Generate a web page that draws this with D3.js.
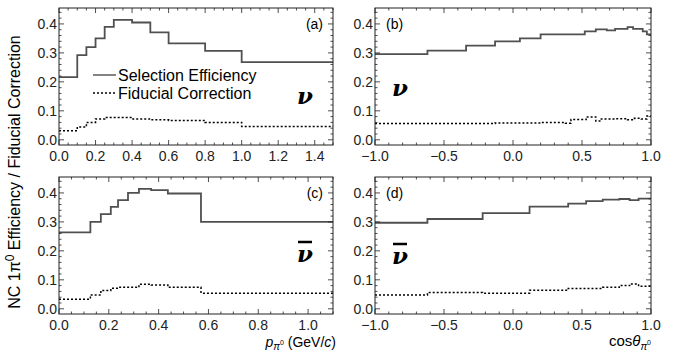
<!DOCTYPE html>
<html>
<head>
<meta charset="utf-8">
<script src="https://cdn.jsdelivr.net/npm/d3@7"></script>
<style>
  body { margin: 0; background: #fff; }
  svg { font-family: "Liberation Sans", Arial, sans-serif; }
</style>
</head>
<body>
<svg width="676" height="354"></svg>
<script>
// bin edges and values
const pEdgesNu = [0, 0.1, 0.15, 0.2, 0.25, 0.3, 0.4, 0.5, 0.6, 0.8, 1.0, 1.5];
const pEffNu = [0.216, 0.292, 0.32, 0.35, 0.39, 0.414, 0.405, 0.371, 0.333, 0.307, 0.268];
const pFidNu = [0.031, 0.044, 0.06, 0.072, 0.077, 0.077, 0.072, 0.069, 0.067, 0.06, 0.046];

const cEffEdgesNu = [-1, -0.62, -0.34, -0.13, 0.05, 0.2, 0.52, 0.6, 0.68, 0.74, 0.83, 0.87, 0.94, 0.97, 1.0];
const cEffNu = [0.296, 0.308, 0.325, 0.34, 0.35, 0.364, 0.374, 0.381, 0.378, 0.383, 0.389, 0.383, 0.374, 0.364];
const cFidEdgesNu = [-1, -0.62, -0.13, 0.2, 0.38, 0.42, 0.53, 0.6, 0.64, 0.74, 0.83, 0.88, 0.93, 0.97, 1];
const cFidNu = [0.056, 0.056, 0.058, 0.06, 0.057, 0.07, 0.079, 0.065, 0.072, 0.073, 0.069, 0.074, 0.072, 0.082];

const pEdgesNubar = [0, 0.126, 0.168, 0.208, 0.237, 0.277, 0.321, 0.37, 0.437, 0.57, 1.1];
const pEffNubar = [0.264, 0.3, 0.327, 0.352, 0.375, 0.4, 0.414, 0.41, 0.398, 0.3];
const pFidNubar = [0.033, 0.048, 0.063, 0.071, 0.074, 0.074, 0.085, 0.082, 0.074, 0.054];

const cEdgesNubar = [-1, -0.62, -0.22, 0.12, 0.4, 0.53, 0.65, 0.77, 0.845, 0.91, 1];
const cEffNubar = [0.297, 0.31, 0.33, 0.353, 0.363, 0.372, 0.377, 0.379, 0.375, 0.38];
const cFidNubar = [0.048, 0.056, 0.054, 0.064, 0.07, 0.07, 0.074, 0.08, 0.086, 0.078];

const yTicks = [0.0, 0.1, 0.2, 0.3, 0.4];

const svg = d3.select('svg');

const panels = [
  {x0: 59, x1: 333, y0: 8, y1: 145, dom: [0, 1.5], major: d3.range(0, 1.51, 0.2), minor: d3.range(0, 1.51, 0.05),
   eff: [pEdgesNu, pEffNu], fid: [pEdgesNu, pFidNu], tag: '(a)', tagX: 323, tagAnchor: 'end', bar: false, nuX: 305, nuY: 104},
  {x0: 375, x1: 651, y0: 8, y1: 145, dom: [-1, 1], major: d3.range(-1, 1.01, 0.5), minor: d3.range(-1, 1.01, 0.1),
   eff: [cEffEdgesNu, cEffNu], fid: [cFidEdgesNu, cFidNu], tag: '(b)', tagX: 386, tagAnchor: 'start', bar: false, nuX: 400, nuY: 96},
  {x0: 59, x1: 333, y0: 177, y1: 314, dom: [0, 1.1], major: d3.range(0, 1.11, 0.2), minor: d3.range(0, 1.11, 0.05),
   eff: [pEdgesNubar, pEffNubar], fid: [pEdgesNubar, pFidNubar], tag: '(c)', tagX: 323, tagAnchor: 'end', bar: true, nuX: 305, nuY: 262},
  {x0: 375, x1: 651, y0: 177, y1: 314, dom: [-1, 1], major: d3.range(-1, 1.01, 0.5), minor: d3.range(-1, 1.01, 0.1),
   eff: [cEdgesNubar, cEffNubar], fid: [cEdgesNubar, cFidNubar], tag: '(d)', tagX: 386, tagAnchor: 'start', bar: true, nuX: 400, nuY: 264}
];

function stepPoints(edges, vals) {
  const pts = [];
  vals.forEach((v, i) => { pts.push([edges[i], v]); pts.push([edges[i + 1], v]); });
  return pts;
}

panels.forEach(p => {
  const x = d3.scaleLinear().domain(p.dom).range([p.x0, p.x1]);
  const y = d3.scaleLinear().domain([-0.018, 0.455]).range([p.y1, p.y0]);
  const g = svg.append('g');

  const line = d3.line().x(d => x(d[0])).y(d => y(d[1]));

  g.append('path').datum(stepPoints(p.fid[0], p.fid[1]))
    .attr('d', line).attr('fill', 'none').attr('stroke', '#000')
    .attr('stroke-width', 1.5).attr('stroke-dasharray', '2,2');
  g.append('path').datum(stepPoints(p.eff[0], p.eff[1]))
    .attr('d', line).attr('fill', 'none').attr('stroke', '#505050')
    .attr('stroke-width', 1.8);

  // frame
  g.append('rect').attr('x', p.x0).attr('y', p.y0)
    .attr('width', p.x1 - p.x0).attr('height', p.y1 - p.y0)
    .attr('fill', 'none').attr('stroke', '#222').attr('stroke-width', 1);

  // ticks inward on all sides
  const tk = g.append('g').attr('stroke', '#222').attr('stroke-width', 0.8);
  const isMajor = (v, arr) => arr.some(m => Math.abs(m - v) < 1e-6);
  p.minor.forEach(v => {
    const len = isMajor(v, p.major) ? 5 : 2.5;
    tk.append('line').attr('x1', x(v)).attr('x2', x(v)).attr('y1', p.y1).attr('y2', p.y1 - len);
    tk.append('line').attr('x1', x(v)).attr('x2', x(v)).attr('y1', p.y0).attr('y2', p.y0 + len);
  });
  d3.range(0, 0.451, 0.02).forEach(v => {
    const len = isMajor(v, yTicks) ? 5 : 2.5;
    tk.append('line').attr('y1', y(v)).attr('y2', y(v)).attr('x1', p.x0).attr('x2', p.x0 + len);
    tk.append('line').attr('y1', y(v)).attr('y2', y(v)).attr('x1', p.x1).attr('x2', p.x1 - len);
  });

  // tick labels
  g.selectAll('.xl').data(p.major).enter().append('text')
    .attr('x', d => x(d)).attr('y', p.y1 + 15.5)
    .attr('text-anchor', 'middle').attr('font-size', 14).attr('fill', '#222')
    .text(d => d3.format('.1f')(d).replace('-', '\u2212'));
  g.selectAll('.yl').data(yTicks).enter().append('text')
    .attr('x', p.x0 - 2).attr('y', d => y(d) + 5)
    .attr('text-anchor', 'end').attr('font-size', 14).attr('fill', '#222')
    .text(d => d3.format('.1f')(d));

  g.append('text').attr('x', p.tagX).attr('y', p.y0 + 21)
    .attr('text-anchor', p.tagAnchor).attr('font-size', 14).text(p.tag);

  g.append('text').attr('x', p.nuX).attr('y', p.nuY)
    .attr('text-anchor', 'middle').attr('font-family', '"DejaVu Serif", "Liberation Serif", serif')
    .attr('font-style', 'italic').attr('font-weight', 'bold').attr('font-size', 23).text('\u03bd');
  if (p.bar) {
    g.append('line').attr('x1', p.nuX - 7).attr('x2', p.nuX + 7)
      .attr('y1', p.nuY - 20).attr('y2', p.nuY - 20)
      .attr('stroke', '#000').attr('stroke-width', 2.5);
  }
});

// legend in panel (a)
const leg = svg.append('g').attr('font-size', 16);
leg.append('line').attr('x1', 93).attr('x2', 116).attr('y1', 75).attr('y2', 75)
  .attr('stroke', '#505050').attr('stroke-width', 1.4);
leg.append('text').attr('x', 118).attr('y', 81).text('Selection Efficiency');
leg.append('line').attr('x1', 93).attr('x2', 116).attr('y1', 93).attr('y2', 93)
  .attr('stroke', '#000').attr('stroke-width', 1.4).attr('stroke-dasharray', '2,2');
leg.append('text').attr('x', 118).attr('y', 99).text('Fiducial Correction');

// axis titles
const yt = svg.append('text').attr('transform', 'translate(20,172) rotate(-90)')
  .attr('text-anchor', 'middle').attr('font-size', 16);
yt.append('tspan').text('NC 1\u03c0');
yt.append('tspan').attr('dy', -6).attr('font-size', 12).text('0');
yt.append('tspan').attr('dy', 6).text(' Efficiency / Fiducial Correction');

const xt1 = svg.append('text').attr('x', 336).attr('y', 347).attr('text-anchor', 'end').attr('font-size', 14);
xt1.append('tspan').attr('font-style', 'italic').text('p');
xt1.append('tspan').attr('dy', 3).attr('font-size', 10).attr('font-style', 'italic').text('\u03c0');
xt1.append('tspan').attr('dy', -5).attr('font-size', 7).text('0');
xt1.append('tspan').attr('dy', 2).text(' (GeV/');
xt1.append('tspan').attr('font-style', 'italic').text('c');
xt1.append('tspan').text(')');

const xt2 = svg.append('text').attr('x', 651).attr('y', 346).attr('text-anchor', 'end').attr('font-size', 15);
xt2.append('tspan').text('cos');
xt2.append('tspan').attr('font-style', 'italic').text('\u03b8');
xt2.append('tspan').attr('dy', 4).attr('font-size', 10).attr('font-style', 'italic').text('\u03c0');
xt2.append('tspan').attr('dy', -5).attr('font-size', 7).text('0');
</script>
</body>
</html>
